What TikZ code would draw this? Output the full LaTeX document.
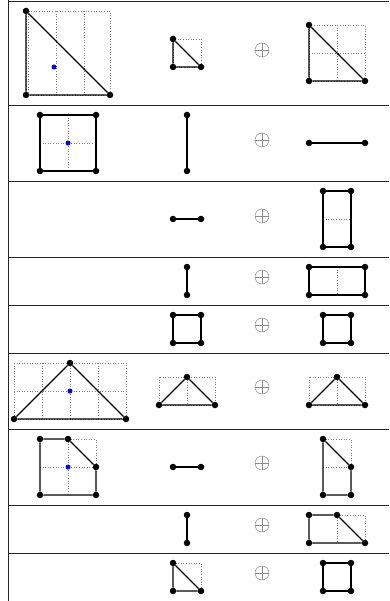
\documentclass[tikz,border=0pt]{standalone}
\begin{document}
\begin{tikzpicture}[x=1pt,y=-1pt,
  vtx/.style={circle,fill=black,inner sep=0pt,minimum size=6.5pt},
  ctr/.style={circle,fill=blue,inner sep=0pt,minimum size=5pt},
  edge/.style={line width=1.3pt,black},
  gridln/.style={gray,dotted,line width=0.6pt},
  rule/.style={line width=0.9pt,black!85},
  oplusnode/.style={circle,draw=gray!90,line width=0.5pt,inner sep=0pt,minimum size=14pt,
    path picture={\draw[gray!90,line width=0.5pt] (path picture bounding box.north) -- (path picture bounding box.south)
      (path picture bounding box.west) -- (path picture bounding box.east);}}]
\useasboundingbox (0,0) rectangle (389,601);
% table
\coordinate (tl) at (8,0.5);
\coordinate (bl) at (8,601);
\draw[rule] (tl) -- (bl);
\foreach \y in {1,105,181,257,305,353,429,505,553}{
  \draw[rule] (8,\y) -- (389,\y);
}
% ---------- Row 1 ----------
\draw[gridln] (26,11) grid[step=28] (110,95);
\draw[gridln] (26,11) rectangle (110,95);
\node[vtx] (a1) at (26,11) {};
\node[vtx] (a2) at (26,95) {};
\node[vtx] (a3) at (110,95) {};
\draw[edge] (a1) -- (a2) -- (a3) -- (a1);
\node[ctr] (ac) at (54,67) {};
\draw[gridln] (173,39) rectangle (201,67);
\node[vtx] (b1) at (173,39) {};
\node[vtx] (b2) at (173,67) {};
\node[vtx] (b3) at (201,67) {};
\draw[edge] (b1) -- (b2) -- (b3) -- (b1);
\node[oplusnode] (o1) at (262,50) {};
\draw[gridln] (309,25) rectangle (365,81);
\draw[gridln] (337,25) -- (337,81) (309,53) -- (365,53);
\node[vtx] (c1) at (309,25) {};
\node[vtx] (c2) at (309,81) {};
\node[vtx] (c3) at (365,81) {};
\draw[edge] (c1) -- (c2) -- (c3) -- (c1);
% ---------- Row 2 ----------
\draw[gridln] (68,115) -- (68,171) (40,143) -- (96,143);
\node[vtx] (d1) at (40,115) {};
\node[vtx] (d2) at (96,115) {};
\node[vtx] (d3) at (96,171) {};
\node[vtx] (d4) at (40,171) {};
\draw[edge] (d1) -- (d2) -- (d3) -- (d4) -- (d1);
\node[ctr] (dc) at (68,143) {};
\node[vtx] (e1) at (187,115) {};
\node[vtx] (e2) at (187,171) {};
\draw[edge] (e1) -- (e2);
\node[oplusnode] (o2) at (262,140) {};
\node[vtx] (f1) at (309,143) {};
\node[vtx] (f2) at (365,143) {};
\draw[edge] (f1) -- (f2);
% ---------- Row 3 ----------
\node[vtx] (g1) at (173,219) {};
\node[vtx] (g2) at (201,219) {};
\draw[edge] (g1) -- (g2);
\node[oplusnode] (o3) at (262,216) {};
\draw[gridln] (323,219) -- (351,219);
\node[vtx] (h1) at (323,191) {};
\node[vtx] (h2) at (351,191) {};
\node[vtx] (h3) at (351,247) {};
\node[vtx] (h4) at (323,247) {};
\draw[edge] (h1) -- (h2) -- (h3) -- (h4) -- (h1);
% ---------- Row 4 ----------
\node[vtx] (i1) at (187,267) {};
\node[vtx] (i2) at (187,295) {};
\draw[edge] (i1) -- (i2);
\node[oplusnode] (o4) at (262,277) {};
\draw[gridln] (337,267) -- (337,295);
\node[vtx] (j1) at (309,267) {};
\node[vtx] (j2) at (365,267) {};
\node[vtx] (j3) at (365,295) {};
\node[vtx] (j4) at (309,295) {};
\draw[edge] (j1) -- (j2) -- (j3) -- (j4) -- (j1);
% ---------- Row 5 ----------
\node[vtx] (k1) at (173,315) {};
\node[vtx] (k2) at (201,315) {};
\node[vtx] (k3) at (201,343) {};
\node[vtx] (k4) at (173,343) {};
\draw[edge] (k1) -- (k2) -- (k3) -- (k4) -- (k1);
\node[oplusnode] (o5) at (262,325) {};
\node[vtx] (l1) at (323,315) {};
\node[vtx] (l2) at (351,315) {};
\node[vtx] (l3) at (351,343) {};
\node[vtx] (l4) at (323,343) {};
\draw[edge] (l1) -- (l2) -- (l3) -- (l4) -- (l1);
% ---------- Row 6 ----------
\draw[gridln] (14,363) rectangle (126,419);
\draw[gridln] (42,363) -- (42,419) (70,363) -- (70,419) (98,363) -- (98,419) (14,391) -- (126,391);
\node[vtx] (m1) at (14,419) {};
\node[vtx] (m2) at (70,363) {};
\node[vtx] (m3) at (126,419) {};
\draw[edge] (m1) -- (m2) -- (m3) -- (m1);
\node[ctr] (mc) at (70,391) {};
\draw[gridln] (159,377) rectangle (215,405);
\draw[gridln] (187,377) -- (187,405);
\node[vtx] (n1) at (159,405) {};
\node[vtx] (n2) at (187,377) {};
\node[vtx] (n3) at (215,405) {};
\draw[edge] (n1) -- (n2) -- (n3) -- (n1);
\node[oplusnode] (o6) at (262,387) {};
\draw[gridln] (309,377) rectangle (365,405);
\draw[gridln] (337,377) -- (337,405);
\node[vtx] (p1) at (309,405) {};
\node[vtx] (p2) at (337,377) {};
\node[vtx] (p3) at (365,405) {};
\draw[edge] (p1) -- (p2) -- (p3) -- (p1);
% ---------- Row 7 ----------
\draw[gridln] (68,439) -- (96,439) -- (96,467);
\draw[gridln] (68,439) -- (68,495) (40,467) -- (96,467);
\node[vtx] (q1) at (40,439) {};
\node[vtx] (q2) at (68,439) {};
\node[vtx] (q3) at (96,467) {};
\node[vtx] (q4) at (96,495) {};
\node[vtx] (q5) at (40,495) {};
\draw[edge] (q1) -- (q2) -- (q3) -- (q4) -- (q5) -- (q1);
\node[ctr] (qc) at (68,467) {};
\node[vtx] (r1) at (173,467) {};
\node[vtx] (r2) at (201,467) {};
\draw[edge] (r1) -- (r2);
\node[oplusnode] (o7) at (262,463) {};
\draw[gridln] (323,439) -- (351,439) -- (351,467) (323,467) -- (351,467);
\node[vtx] (s1) at (323,439) {};
\node[vtx] (s2) at (351,467) {};
\node[vtx] (s3) at (351,495) {};
\node[vtx] (s4) at (323,495) {};
\draw[edge] (s1) -- (s2) -- (s3) -- (s4) -- (s1);
% ---------- Row 8 ----------
\node[vtx] (t1) at (187,515) {};
\node[vtx] (t2) at (187,543) {};
\draw[edge] (t1) -- (t2);
\node[oplusnode] (o8) at (262,525) {};
\draw[gridln] (337,515) -- (365,515) -- (365,543) (337,515) -- (337,543);
\node[vtx] (u1) at (309,515) {};
\node[vtx] (u2) at (337,515) {};
\node[vtx] (u3) at (365,543) {};
\node[vtx] (u4) at (309,543) {};
\draw[edge] (u1) -- (u2) -- (u3) -- (u4) -- (u1);
% ---------- Row 9 ----------
\draw[gridln] (173,563) -- (201,563) -- (201,591);
\node[vtx] (v1) at (173,563) {};
\node[vtx] (v2) at (173,591) {};
\node[vtx] (v3) at (201,591) {};
\draw[edge] (v1) -- (v2) -- (v3) -- (v1);
\node[oplusnode] (o9) at (262,573) {};
\node[vtx] (w1) at (323,563) {};
\node[vtx] (w2) at (351,563) {};
\node[vtx] (w3) at (351,591) {};
\node[vtx] (w4) at (323,591) {};
\draw[edge] (w1) -- (w2) -- (w3) -- (w4) -- (w1);
\end{tikzpicture}
\end{document}
